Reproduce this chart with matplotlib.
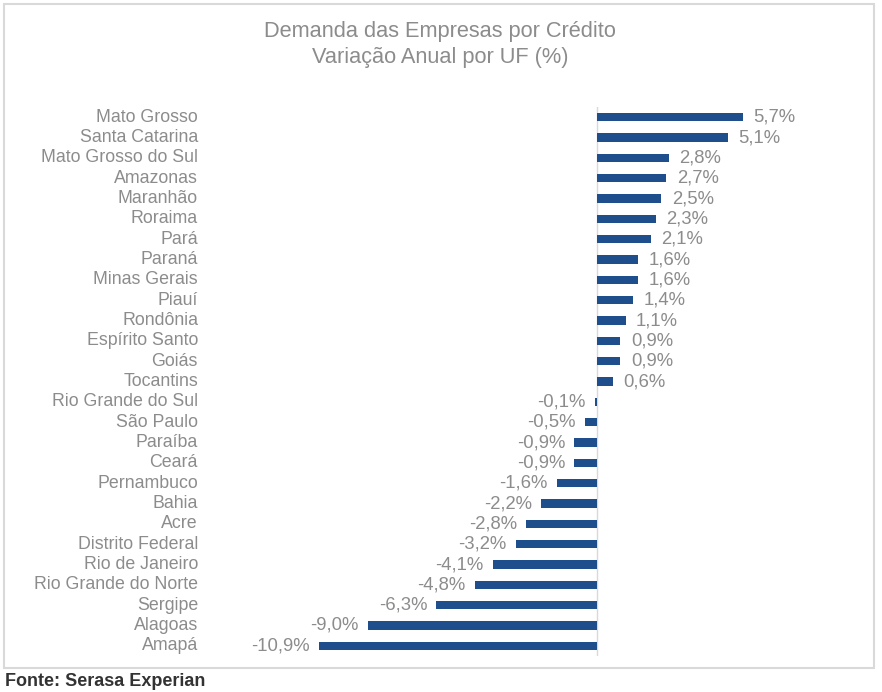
import matplotlib
matplotlib.use("Agg")
import matplotlib.pyplot as plt
from matplotlib.patches import Rectangle
import matplotlib.transforms as mtransforms

categories = ["Mato Grosso", "Santa Catarina", "Mato Grosso do Sul", "Amazonas", "Maranhão",
              "Roraima", "Pará", "Paraná", "Minas Gerais", "Piauí", "Rondônia", "Espírito Santo",
              "Goiás", "Tocantins", "Rio Grande do Sul", "São Paulo", "Paraíba", "Ceará",
              "Pernambuco", "Bahia", "Acre", "Distrito Federal", "Rio de Janeiro",
              "Rio Grande do Norte", "Sergipe", "Alagoas", "Amapá"]
values = [5.7, 5.1, 2.8, 2.7, 2.5, 2.3, 2.1, 1.6, 1.6, 1.4, 1.1, 0.9, 0.9, 0.6,
          -0.1, -0.5, -0.9, -0.9, -1.6, -2.2, -2.8, -3.2, -4.1, -4.8, -6.3, -9.0, -10.9]

W, H = 882, 692
fig = plt.figure(figsize=(W / 100, H / 100), dpi=100)
plt.rcParams['font.family'] = ['Liberation Sans', 'DejaVu Sans']

gray = "#8c8c8c"
bar_color = "#1f4e8c"

# axes in pixel coordinates
left_px, right_px, top_px, bot_px = 319, 743, 107, 656
ax = fig.add_axes([left_px / W, 1 - bot_px / H, (right_px - left_px) / W, (bot_px - top_px) / H])
ax.set_xlim(-10.9, 5.7)
n = len(categories)
ys = list(range(n))
ax.set_ylim(n - 0.5, -0.5)
ax.barh(ys, values, height=0.4, color=bar_color, zorder=2)
ax.axvline(0, color="#d9d9d9", lw=1, zorder=1)
ax.axis("off")

trans = mtransforms.blended_transform_factory(fig.transFigure, ax.transData)
for y, c in zip(ys, categories):
    ax.text(198 / W, y, c, transform=trans, ha="right", va="center", fontsize=12.8, color=gray)

for y, v in zip(ys, values):
    s = f"{v:.1f}%".replace(".", ",")
    if v >= 0:
        ax.annotate(s, (v, y), xytext=(7.5, 0), textcoords="offset points", ha="left", va="center",
                    fontsize=13.3, color=gray)
    else:
        ax.annotate(s, (v, y), xytext=(-6.5, 0), textcoords="offset points", ha="right", va="center",
                    fontsize=13.3, color=gray)

fig.text(440 / W, 1 - 32 / H, "Demanda das Empresas por Crédito", ha="center", va="center",
         fontsize=15.7, color=gray)
fig.text(440 / W, 1 - 58 / H, "Variação Anual por UF (%)", ha="center", va="center",
         fontsize=15.7, color=gray)

fig.patches.append(Rectangle((4 / W, 1 - 668 / H), 870 / W, 664 / H, transform=fig.transFigure,
                             fill=False, edgecolor="#d9d9d9", lw=1.5))
fig.text(5 / W, 1 - 681 / H, "Fonte: Serasa Experian", ha="left", va="center", fontsize=13,
         fontweight="bold", color="#333333")

fig.savefig("out.png", dpi=100)
